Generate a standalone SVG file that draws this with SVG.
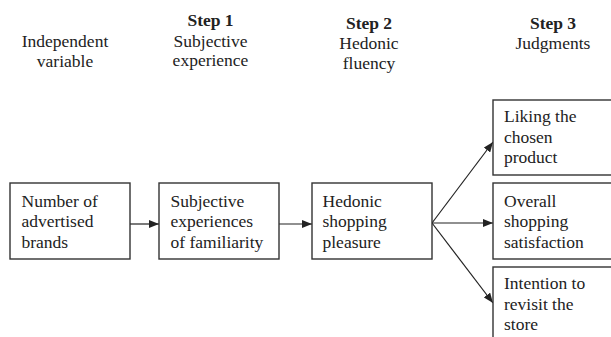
<svg xmlns="http://www.w3.org/2000/svg" width="611" height="337" viewBox="0 0 611 337">
<style>
text{font-family:"Liberation Serif","Times New Roman",serif;font-size:17.5px;fill:#222}
.h{text-anchor:middle}
.b{font-weight:bold}
.box{fill:#fff;stroke:#333;stroke-width:1.4}
.c{stroke:#222;stroke-width:1.2;fill:none}
</style>
<defs>
<marker id="ah" viewBox="0 0 10 8" refX="10" refY="4" markerWidth="10" markerHeight="8" markerUnits="userSpaceOnUse" orient="auto">
<path d="M0,0 L10,4 L0,8 Z" fill="#222"/>
</marker>
</defs>
<rect width="611" height="337" fill="#fff"/>
<g id="headers">
<text class="h" x="65" y="46.5">Independent</text>
<text class="h" x="65" y="66.5">variable</text>
<text class="h b" x="210.5" y="26">Step 1</text>
<text class="h" x="210.5" y="46.5">Subjective</text>
<text class="h" x="210.5" y="66">experience</text>
<text class="h b" x="369" y="28.5">Step 2</text>
<text class="h" x="369" y="48.8">Hedonic</text>
<text class="h" x="369" y="68.5">fluency</text>
<text class="h b" x="553" y="28.5">Step 3</text>
<text class="h" x="553" y="48.8">Judgments</text>
</g>
<g id="connectors">
<line class="c" x1="130" y1="224" x2="159" y2="224" marker-end="url(#ah)"/>
<line class="c" x1="279" y1="224" x2="312" y2="224" marker-end="url(#ah)"/>
<line class="c" x1="432" y1="223" x2="493" y2="142" marker-end="url(#ah)"/>
<line class="c" x1="432" y1="223" x2="493" y2="223" marker-end="url(#ah)"/>
<line class="c" x1="432" y1="223" x2="493" y2="303" marker-end="url(#ah)"/>
</g>
<g id="n1">
<rect class="box" x="10" y="183" width="120" height="76"/>
<text x="21.5" y="206.5">Number of</text>
<text x="21.5" y="227">advertised</text>
<text x="21.5" y="247.5">brands</text>
</g>
<g id="n2">
<rect class="box" x="159" y="183" width="120" height="76"/>
<text x="170.5" y="206.5">Subjective</text>
<text x="170.5" y="227">experiences</text>
<text x="170.5" y="247.5">of familiarity</text>
</g>
<g id="n3">
<rect class="box" x="312" y="183" width="120" height="76"/>
<text x="322.5" y="206.5">Hedonic</text>
<text x="322.5" y="227">shopping</text>
<text x="322.5" y="247.5">pleasure</text>
</g>
<g id="n4">
<rect class="box" x="493" y="100" width="130" height="75"/>
<text x="504" y="122">Liking the</text>
<text x="504" y="142.5">chosen</text>
<text x="504" y="163">product</text>
</g>
<g id="n5">
<rect class="box" x="493" y="183" width="130" height="76"/>
<text x="504" y="206.5">Overall</text>
<text x="504" y="227">shopping</text>
<text x="504" y="247.5">satisfaction</text>
</g>
<g id="n6">
<rect class="box" x="493" y="267" width="130" height="90"/>
<text x="504" y="289">Intention to</text>
<text x="504" y="309.5">revisit the</text>
<text x="504" y="330">store</text>
</g>
</svg>
